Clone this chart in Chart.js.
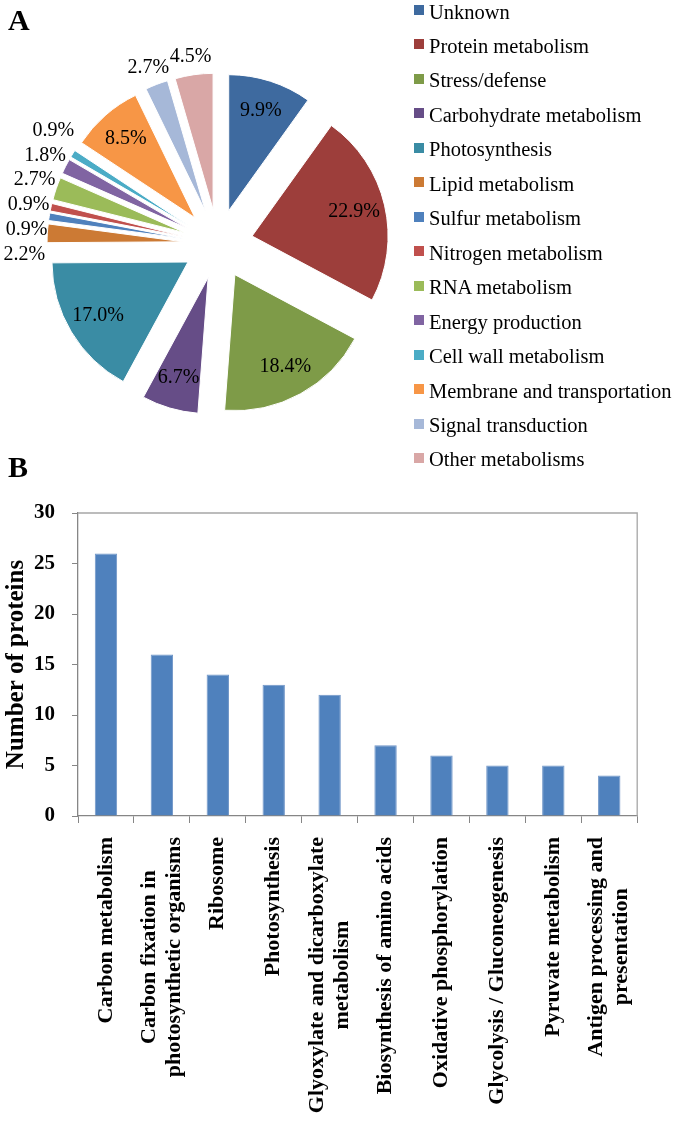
<!DOCTYPE html>
<html><head><meta charset="utf-8">
<script src="https://cdn.jsdelivr.net/npm/chart.js@4.4.1/dist/chart.umd.min.js"></script>
<style>
html,body{margin:0;padding:0;background:#fff;}
body{width:675px;height:1125px;position:relative;overflow:hidden;font-family:"Liberation Serif","Times New Roman",serif;}
.panel{position:absolute;left:8px;font-weight:bold;font-size:30px;line-height:30px;color:#000;}
#pie{position:absolute;left:0;top:0;}
#bar{position:absolute;left:0;top:450px;}
#legend{position:absolute;left:0;top:0;width:675px;height:480px;}
.lg-box{position:absolute;left:414px;width:10px;height:10px;}
.lg-txt{position:absolute;left:429px;font-size:20.5px;line-height:20px;color:#000;white-space:nowrap;}
</style></head>
<body>
<canvas id="pie" width="675" height="490" style="width:675px;height:490px"></canvas>
<canvas id="bar" width="675" height="675" style="width:675px;height:675px"></canvas>
<div id="legend"></div>
<div class="panel" style="top:5px">A</div>
<div class="panel" style="top:452px">B</div>
<script>
// ---------- data ----------
const pieLabels = ['Unknown','Protein metabolism','Stress/defense','Carbohydrate metabolism','Photosynthesis','Lipid metabolism','Sulfur metabolism','Nitrogen metabolism','RNA metabolism','Energy production','Cell wall metabolism','Membrane and transportation','Signal transduction','Other metabolisms'];
const pieValues = [9.9, 22.9, 18.4, 6.7, 17.0, 2.2, 0.9, 0.9, 2.7, 1.8, 0.9, 8.5, 2.7, 4.5];
const pieColors = ['#3E6A9F','#9D3E3B','#7E9B48','#664D87','#3A8CA4','#CC7A34','#4F81BD','#C0504D','#9BBB59','#8064A2','#4BACC6','#F79646','#A6B8D8','#D9A7A6'];

const barCategories = [
  'Carbon metabolism',
  ['Carbon fixation in', 'photosynthetic organisms'],
  'Ribosome',
  'Photosynthesis',
  ['Glyoxylate and dicarboxylate', 'metabolism'],
  'Biosynthesis of amino acids',
  'Oxidative phosphorylation',
  'Glycolysis / Gluconeogenesis',
  'Pyruvate metabolism',
  ['Antigen processing and', 'presentation']
];
const barValues = [26, 16, 14, 13, 12, 7, 6, 5, 5, 4];
const yMin = 0, yMax = 30, yStep = 5;
const yTitle = 'Number of proteins';

// ---------- styles ----------
const SERIF = '"Liberation Serif", "Times New Roman", serif';
Chart.defaults.font.family = SERIF;
Chart.defaults.color = '#000';
const EXPLODE = 35;
const PIE_R = 136;
const INSIDE_MIN = 5;
const OUTSIDE_DY = 5;

// ---------- legend (html) ----------
const lg = document.getElementById('legend');
pieLabels.forEach((name, i) => {
  const top = 1.5 + 34.46 * i;
  const b = document.createElement('div');
  b.className = 'lg-box'; b.style.top = (top + 3.5) + 'px'; b.style.background = pieColors[i];
  const t = document.createElement('div');
  t.className = 'lg-txt'; t.style.top = top + 'px'; t.textContent = name;
  lg.appendChild(b); lg.appendChild(t);
});

// ---------- pie plugins ----------
const explodePlugin = {
  id: 'explode',
  beforeDatasetDraw(chart, args) {
    const ctx = chart.ctx;
    args.meta.data.forEach(arc => {
      const mid = (arc.startAngle + arc.endAngle) / 2;
      ctx.save();
      ctx.translate(Math.cos(mid) * EXPLODE, Math.sin(mid) * EXPLODE);
      arc.draw(ctx);
      ctx.restore();
    });
    return false;
  }
};
const pieLabelPlugin = {
  id: 'pieLabels',
  afterDatasetsDraw(chart) {
    const meta = chart.getDatasetMeta(0);
    const ctx = chart.ctx;
    ctx.save();
    ctx.font = '20px ' + SERIF;
    ctx.fillStyle = '#000';
    ctx.textAlign = 'center';
    ctx.textBaseline = 'middle';
    const outside = [];
    meta.data.forEach((arc, i) => {
      const v = pieValues[i];
      const mid = (arc.startAngle + arc.endAngle) / 2;
      const R = arc.outerRadius;
      const text = v.toFixed(1) + '%';
      if (v >= INSIDE_MIN) {
        const r = EXPLODE + R * 0.77;
        ctx.fillText(text, arc.x + Math.cos(mid) * r, arc.y + Math.sin(mid) * r);
      } else {
        const r = EXPLODE + R + 23;
        outside.push({text, x: arc.x + Math.cos(mid) * r, y: arc.y + Math.sin(mid) * r + OUTSIDE_DY, w: ctx.measureText(text).width});
      }
    });
    const H = 24.8;
    for (let it = 0; it < 500; it++) {
      let moved = false;
      for (let i = 0; i < outside.length; i++) for (let j = i + 1; j < outside.length; j++) {
        const a = outside[i], b = outside[j];
        if (Math.abs(a.x - b.x) < (a.w + b.w) / 2 && Math.abs(a.y - b.y) < H - 0.01) {
          const d = (H - Math.abs(a.y - b.y)) / 2;
          if (a.y <= b.y) { a.y -= d; b.y += d; } else { a.y += d; b.y -= d; }
          moved = true;
        }
      }
      if (!moved) break;
    }
    outside.forEach(l => ctx.fillText(l.text, l.x, l.y));
    ctx.restore();
  }
};

new Chart(document.getElementById('pie'), {
  type: 'pie',
  data: {
    labels: pieLabels,
    datasets: [{
      data: pieValues,
      backgroundColor: pieColors,
      borderColor: '#ffffff',
      borderWidth: 1,
      radius: PIE_R
    }]
  },
  options: {
    responsive: false,
    animation: false,
    events: [],
    layout: {padding: {left: 0, top: 0, right: 239, bottom: 2}},
    plugins: {legend: {display: false}, tooltip: {enabled: false}}
  },
  plugins: [explodePlugin, pieLabelPlugin]
});

// ---------- bar chart ----------
class CenteredCategoryScale extends Chart.CategoryScale {
  _computeLabelItems(chartArea) {
    const items = super._computeLabelItems(chartArea);
    const ctx = this.ctx;
    items.forEach(it => {
      if (Array.isArray(it.label) && it.label.length > 1 && it.options && it.options.translation) {
        const n = it.label.length;
        it.textOffset -= (n - 1) * it.font.lineHeight / 2;
        ctx.save();
        ctx.font = it.font.string;
        const w = Math.max(...it.label.map(l => ctx.measureText(l).width));
        ctx.restore();
        it.options.textAlign = 'center';
        it.options.translation[1] += w / 2;
      }
    });
    return items;
  }
}
CenteredCategoryScale.id = 'centeredCategory';
CenteredCategoryScale.defaults = Chart.CategoryScale.defaults;
Chart.register(CenteredCategoryScale);

const plotBorder = {
  id: 'plotBorder',
  beforeDatasetsDraw(chart) {
    const {ctx, chartArea: a} = chart;
    ctx.save();
    ctx.strokeStyle = '#A6A6A6';
    ctx.lineWidth = 1.3;
    ctx.beginPath();
    ctx.moveTo(a.left, a.top);
    ctx.lineTo(a.right, a.top);
    ctx.lineTo(a.right, a.bottom);
    ctx.stroke();
    ctx.restore();
  }
};

new Chart(document.getElementById('bar'), {
  type: 'bar',
  data: {
    labels: barCategories,
    datasets: [{
      data: barValues,
      backgroundColor: '#4F81BD',
      borderColor: '#7096C8',
      borderWidth: 1,
      barPercentage: 0.4,
      categoryPercentage: 1.0
    }]
  },
  options: {
    responsive: false,
    animation: false,
    events: [],
    layout: {padding: {left: 0, top: 63, right: 32, bottom: 0}},
    plugins: {legend: {display: false}, tooltip: {enabled: false}},
    scales: {
      x: {
        type: 'centeredCategory',
        offset: true,
        grid: {offset: true, drawOnChartArea: false, drawTicks: true, tickLength: 7, color: '#868686'},
        border: {color: '#868686', width: 1.3},
        ticks: {autoSkip: false, maxRotation: 90, minRotation: 90, padding: 14, color: '#000',
                font: {size: 22, weight: 'bold', lineHeight: 1.14}},
        afterFit(scale) { scale.height = 309; }
      },
      y: {
        min: yMin, max: yMax,
        grid: {drawOnChartArea: false, drawTicks: true, tickLength: 6, color: '#868686'},
        border: {color: '#868686', width: 1.3},
        ticks: {stepSize: yStep, padding: 17, color: '#000', font: {size: 21, weight: 'bold'}},
        title: {display: true, text: yTitle, color: '#000', padding: {top: 2, bottom: 0},
                font: {size: 25, weight: 'bold'}},
        afterFit(scale) { scale.width = 78; }
      }
    }
  },
  plugins: [plotBorder]
});
</script>
</body></html>
